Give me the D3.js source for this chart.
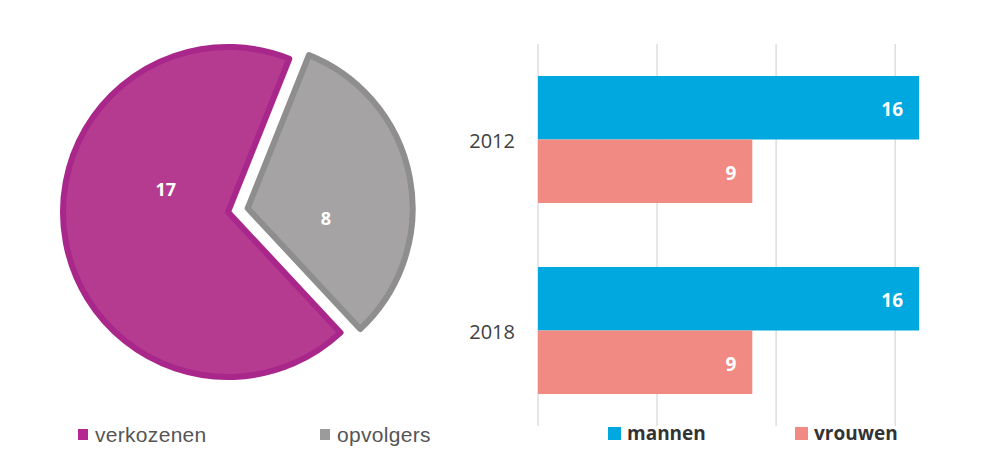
<!DOCTYPE html>
<html>
<head>
<meta charset="utf-8">
<script src="https://cdn.jsdelivr.net/npm/d3@7"></script>
<style>
  body { margin: 0; background: #fff; }
  svg { display: block; }
</style>
</head>
<body>
<svg id="chart" width="1000" height="471"></svg>
<script>
// pie data
const pieLabels = ["verkozenen", "opvolgers"];
const pieValues = [17, 8];

// bar data
const years = ["2012", "2018"];
const genders = ["mannen", "vrouwen"];
const mannen = [16, 16];
const vrouwen = [9, 9];
const gridTicks = [0, 5, 10, 15];

const svg = d3.select("#chart");

// ---- Pie ----
const pieFill = ["#b43b90", "#a5a3a3"];
const pieStroke = ["#a9278b", "#8e8e8e"];
const legendFill = ["#b5288f", "#9b9b9b"];
const cx = 228, cy = 212, radius = 165, explode = 20;

const pie = d3.pie().sort(null)
    .startAngle(137 * Math.PI / 180)
    .endAngle(137 * Math.PI / 180 + 2 * Math.PI);
const arcs = pie(pieValues);
const arc = d3.arc().innerRadius(0).outerRadius(radius);

const pieG = svg.append("g").attr("transform", `translate(${cx},${cy})`);

const slices = pieG.selectAll("g.slice")
    .data(arcs)
    .join("g")
    .attr("class", "slice")
    .attr("transform", (d, i) => {
        if (i === 0) return null;
        const mid = (d.startAngle + d.endAngle) / 2;
        return `translate(${Math.sin(mid) * explode},${-Math.cos(mid) * explode})`;
    });

slices.append("path")
    .attr("d", arc)
    .attr("fill", (d, i) => pieFill[i])
    .attr("stroke", (d, i) => pieStroke[i])
    .attr("stroke-width", 6)
    .attr("stroke-linejoin", "round");

// labels sit a bit clockwise of the slice middle, like the original
const labelR = [66, 79];
const labelShift = [0.52, 0.32];
const labelAngle = (d, i) => (d.startAngle + d.endAngle) / 2 + labelShift[i];
slices.append("text")
    .attr("x", (d, i) => Math.sin(labelAngle(d, i)) * labelR[i])
    .attr("y", (d, i) => -Math.cos(labelAngle(d, i)) * labelR[i])
    .attr("dy", 6)
    .attr("text-anchor", "middle")
    .style("font-family", "'Open Sans', sans-serif")
    .style("font-weight", "700")
    .style("font-size", "18px")
    .style("fill", "#fff")
    .text(d => d.data);

// pie legend
const pieLegendX = [78, 320];
pieLabels.forEach((name, i) => {
    svg.append("rect")
        .attr("x", pieLegendX[i])
        .attr("y", 429)
        .attr("width", 10)
        .attr("height", 11)
        .attr("fill", legendFill[i]);
    svg.append("text")
        .attr("x", pieLegendX[i] + 17)
        .attr("y", 442)
        .style("font-family", "'Liberation Sans', Arial, sans-serif")
        .style("font-size", "21px")
        .style("letter-spacing", "0.3px")
        .style("fill", "#555")
        .text(name);
});

// ---- Bars ----
const barColor = { mannen: "#00a8e0", vrouwen: "#f08a82" };
const barData = years.map((y, i) => ({ year: y, mannen: mannen[i], vrouwen: vrouwen[i] }));

const x = d3.scaleLinear().domain([0, 16]).range([538, 919]);
const y0 = d3.scaleBand().domain(years).range([44, 426])
    .paddingInner(0.335).paddingOuter(0.1675);
const y1 = d3.scaleBand().domain(genders).range([0, y0.bandwidth()]).padding(0);

// gridlines
svg.append("g")
    .selectAll("line")
    .data(gridTicks)
    .join("line")
    .attr("x1", d => x(d))
    .attr("x2", d => x(d))
    .attr("y1", 44)
    .attr("y2", 426)
    .attr("stroke", "#dedede")
    .attr("stroke-width", 1.5);

const groups = svg.append("g")
    .selectAll("g.year")
    .data(barData)
    .join("g")
    .attr("class", "year")
    .attr("transform", d => `translate(0,${y0(d.year)})`);

const bars = groups.selectAll("g.bar")
    .data(d => genders.map(k => ({ key: k, value: d[k] })))
    .join("g")
    .attr("class", "bar");

bars.append("rect")
    .attr("x", x(0))
    .attr("y", d => y1(d.key))
    .attr("width", d => x(d.value) - x(0))
    .attr("height", y1.bandwidth())
    .attr("fill", d => barColor[d.key]);

bars.append("text")
    .attr("x", d => x(d.value) - 16)
    .attr("y", d => y1(d.key) + y1.bandwidth() / 2)
    .attr("dy", 8.5)
    .attr("text-anchor", "end")
    .style("font-family", "'Open Sans', sans-serif")
    .style("font-weight", "700")
    .style("font-size", "19px")
    .style("fill", "#fff")
    .text(d => d.value);

// year labels
svg.append("g")
    .selectAll("text")
    .data(years)
    .join("text")
    .attr("x", 515)
    .attr("y", d => y0(d) + y0.bandwidth() / 2)
    .attr("dy", 8)
    .attr("text-anchor", "end")
    .style("font-family", "'Open Sans', sans-serif")
    .style("font-size", "20px")
    .style("fill", "#404040")
    .text(d => d);

// bar legend
const barLegendX = [608, 795];
genders.forEach((g, i) => {
    svg.append("rect")
        .attr("x", barLegendX[i])
        .attr("y", 427)
        .attr("width", 13)
        .attr("height", 13)
        .attr("fill", barColor[g]);
    svg.append("text")
        .attr("x", barLegendX[i] + 19)
        .attr("y", 440)
        .style("font-family", "'Open Sans', sans-serif")
        .style("font-weight", "700")
        .style("font-size", "19px")
        .style("fill", "#333")
        .text(g);
});
</script>
</body>
</html>
